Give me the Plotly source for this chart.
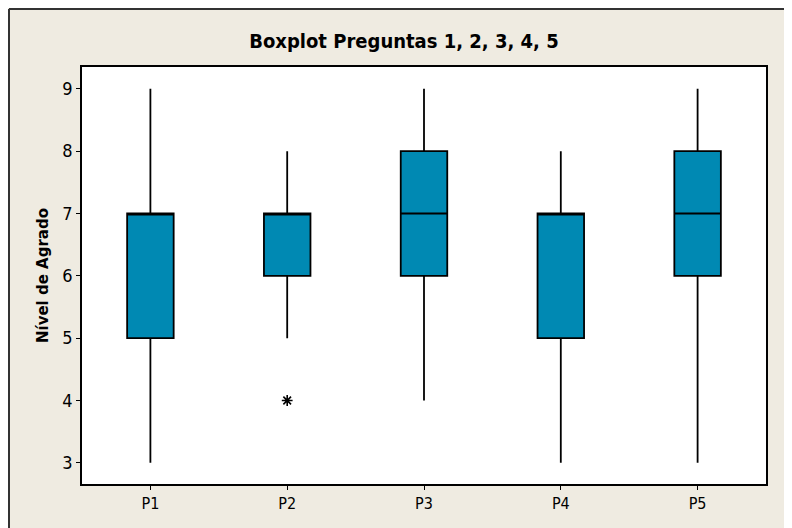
import plotly.graph_objects as go

categories = ["P1", "P2", "P3", "P4", "P5"]
lower_whisker = [3, 5, 4, 3, 3]
q1_values = [5, 6, 6, 5, 6]
median_values = [7, 7, 7, 7, 7]
q3_values = [7, 7, 8, 7, 8]
upper_whisker = [9, 8, 9, 8, 9]
outlier_cats = ["P2"]
outlier_values = [4]

BOX_FILL = "#0089B3"
BG = "#EFEBE1"

# the page body adds an 8 px margin, so the figure is 8 px smaller
W, H = 784, 520
OFF = 8
L, R, T, B = 82 - OFF, 792 - 766, 67 - OFF, 528 - 484
PW, PH = W - L - R, H - T - B

fig = go.Figure()
fig.add_trace(go.Box(
    x=categories,
    q1=q1_values,
    median=median_values,
    q3=q3_values,
    lowerfence=lower_whisker,
    upperfence=upper_whisker,
    fillcolor=BOX_FILL,
    line=dict(color="black", width=1.8),
    whiskerwidth=0,
    width=0.34,
    boxpoints=False,
    showlegend=False,
    hoverinfo="skip",
))
fig.add_trace(go.Scatter(
    x=outlier_cats,
    y=outlier_values,
    mode="markers",
    marker=dict(symbol="asterisk-open", size=9, color="black",
                line=dict(color="black", width=1.6)),
    showlegend=False,
))

font_main = "DejaVu Sans Condensed, DejaVu Sans, sans-serif"

def px_x(x):
    return (x - OFF - L) / PW

def px_y(y):
    return (H - B - (y - OFF)) / PH

fig.update_layout(
    width=W, height=H,
    margin=dict(l=L, r=R, t=T, b=B),
    paper_bgcolor=BG,
    plot_bgcolor="white",
    title=dict(text="<b>Boxplot Preguntas 1, 2, 3, 4, 5</b>",
               x=(404 - OFF) / W, xref="container", xanchor="center",
               y=1 - (41 - OFF) / H, yref="container", yanchor="middle",
               font=dict(family=font_main, size=20, color="black")),
    xaxis=dict(
        type="category",
        categoryorder="array", categoryarray=categories,
        range=[-0.5, 4.5],
        showgrid=False, zeroline=False,
        showline=True, linecolor="black", linewidth=1.5, mirror=True,
        ticks="outside", ticklen=4, tickcolor="black", tickwidth=1,
        tickfont=dict(family=font_main, size=16, color="black"),
    ),
    yaxis=dict(
        range=[2.66, 9.35],
        tickvals=[3, 4, 5, 6, 7, 8, 9],
        showgrid=False, zeroline=False,
        showline=True, linecolor="black", linewidth=1.5, mirror=True,
        ticks="outside", ticklen=4, tickcolor="black", tickwidth=1,
        tickfont=dict(family=font_main, size=18, color="black"),
        title=dict(text="<b>Nível de Agrado</b>", standoff=10,
                   font=dict(family="DejaVu Sans, sans-serif", size=15, color="black")),
    ),
    shapes=[
        dict(type="line", xref="paper", yref="paper",
             x0=px_x(9), x1=px_x(820), y0=px_y(9), y1=px_y(9),
             line=dict(color="#333333", width=2)),
        dict(type="line", xref="paper", yref="paper",
             x0=px_x(9), x1=px_x(9), y0=px_y(9), y1=px_y(560),
             line=dict(color="#333333", width=2)),
    ],
)

fig.write_html("out.html")
